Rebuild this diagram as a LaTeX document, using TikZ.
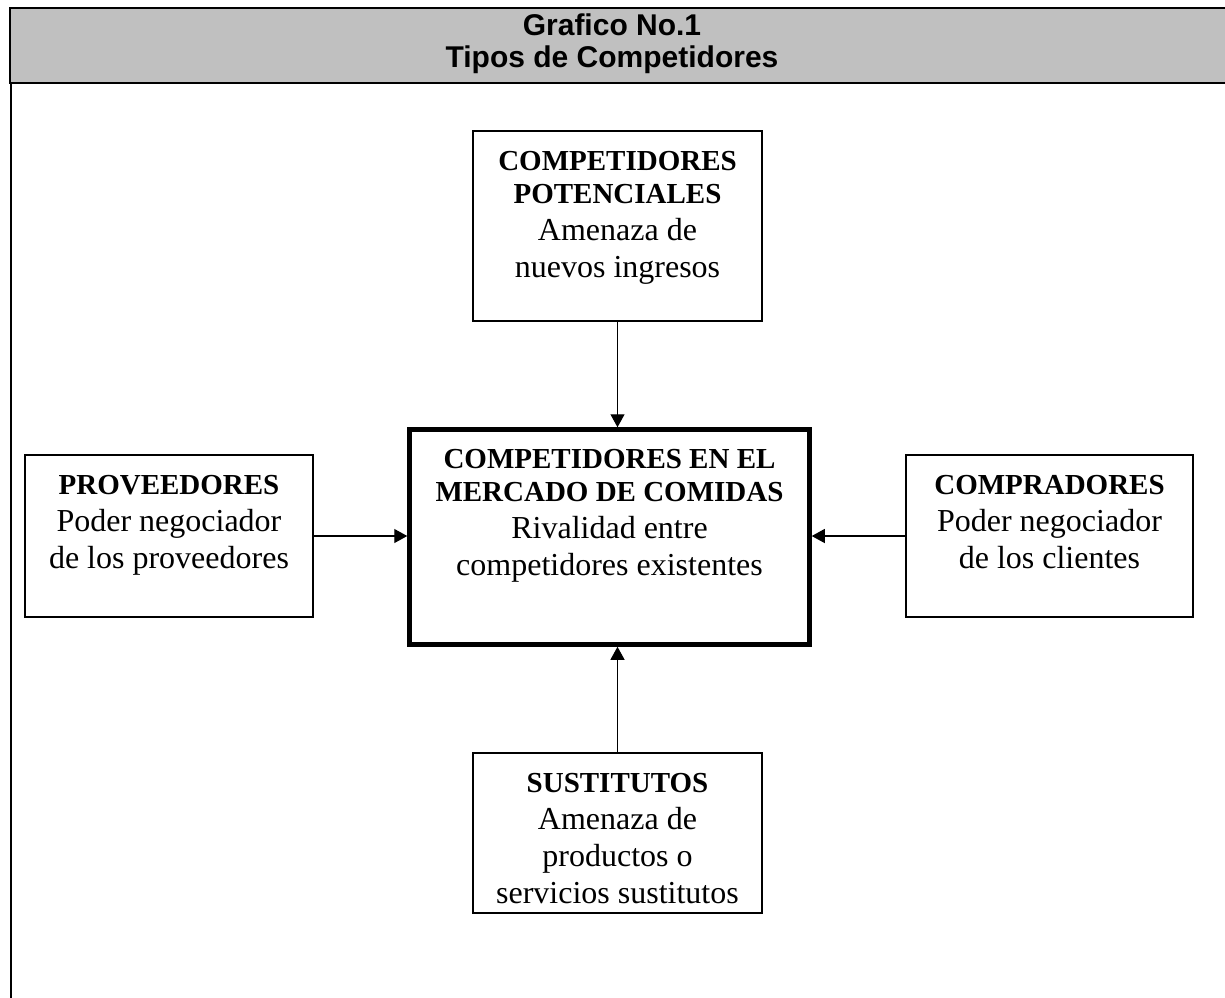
\documentclass[tikz,border=0pt]{standalone}
\usepackage{fontspec}
\setmainfont{Liberation Serif}
\newfontfamily\titlefont{Liberation Sans}
\usetikzlibrary{arrows.meta}
\setlength{\parskip}{0pt}
\definecolor{gris}{RGB}{192,192,192}
\newcommand{\cajatexto}[3]{\begin{minipage}[c][#2][t]{#1}\centering\rule{0pt}{39pt}#3\end{minipage}}
\newcommand{\lineacab}[1]{{\fontsize{29}{33}\selectfont\bfseries #1\par}}
\newcommand{\linea}[1]{{\fontsize{32}{37}\selectfont #1\par}}

\begin{document}
\begin{tikzpicture}[x=1pt, y=-1pt,
  caja/.style={draw, line width=1.2pt, inner sep=0pt},
  flecha/.style={-{Triangle[length=13pt,width=14pt]}, line width=1.2pt}]

\useasboundingbox (0,0) rectangle (1225,997);

% encabezado
\draw [fill=gris, line width=2.2pt] (10.2,7.8) rectangle (1240,82.8);
\draw [line width=2.2pt] (11,82.8) -- (11,1005);
\node [align=center, inner sep=0pt, font=\titlefont\bfseries\fontsize{30}{32}\selectfont] (titulo) at (612,44) {Grafico No.1\\Tipos de Competidores};

% cajas
\node [caja] (pot) at (617.5,226) {\cajatexto{289pt}{190pt}{\lineacab{COMPETIDORES}\lineacab{POTENCIALES}\linea{Amenaza de}\linea{nuevos ingresos}}};
\node [caja, line width=4.5pt] (mer) at (609.5,537) {\cajatexto{400pt}{215pt}{\lineacab{COMPETIDORES EN EL}\lineacab{MERCADO DE COMIDAS}\linea{Rivalidad entre}\linea{competidores existentes}}};
\node [caja] (pro) at (169,536) {\cajatexto{288pt}{162pt}{\lineacab{PROVEEDORES}\linea{Poder negociador}\linea{de los proveedores}}};
\node [caja] (com) at (1049.5,536) {\cajatexto{287pt}{162pt}{\lineacab{COMPRADORES}\linea{Poder negociador}\linea{de los clientes}}};
\node [caja] (sus) at (617.5,833) {\cajatexto{289pt}{160pt}{\lineacab{SUSTITUTOS}\linea{Amenaza de}\linea{productos o}\linea{servicios sustitutos}}};

% flechas
\draw [flecha] (pot.south) -- (mer.north -| pot.south);
\draw [flecha] (pro.east) -- (pro.east -| mer.west);
\draw [flecha] (com.west) -- (com.west -| mer.east);
\draw [flecha] (sus.north) -- (mer.south -| sus.north);

\end{tikzpicture}
\end{document}
